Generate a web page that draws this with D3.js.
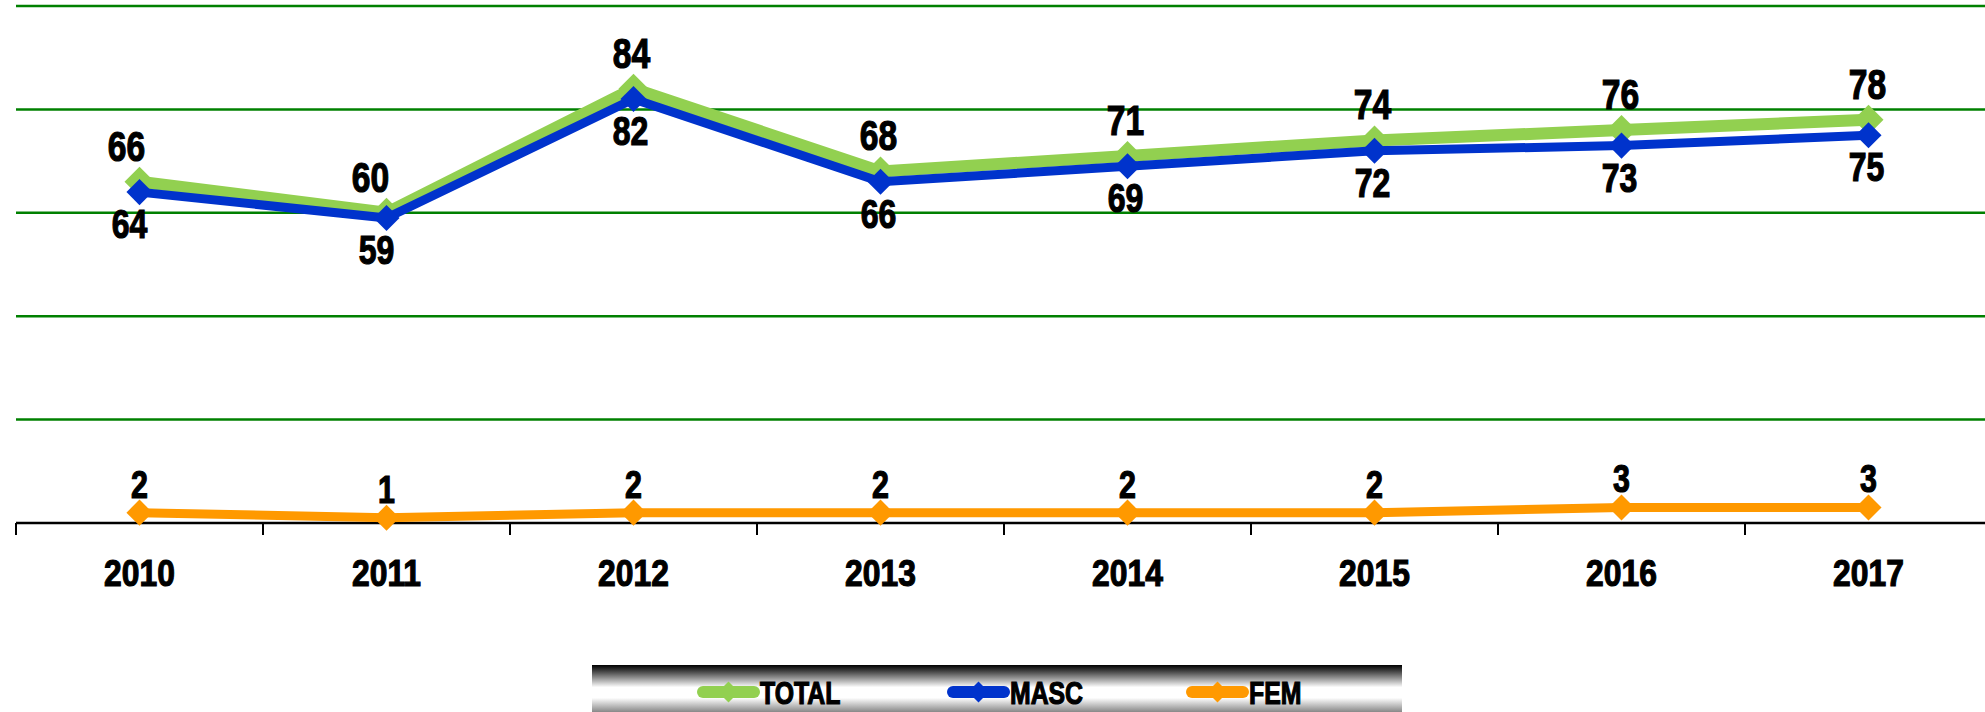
<!DOCTYPE html>
<html>
<head>
<meta charset="utf-8">
<script src="https://cdn.jsdelivr.net/npm/d3@7"></script>
<style>
    body { margin: 0; background: #fff; }
    .svg { display: block; font-family: "Liberation Sans", Arial, sans-serif; font-weight: bold; }
    .svg text { fill: #000; stroke: #000; stroke-width: 1.2px; }
</style>
</head>
<body>
<div class="container">
    <svg class="svg" width="1985" height="712"></svg>
</div>
<script>
const years = ['2010', '2011', '2012', '2013', '2014', '2015', '2016', '2017'];
const totalValues = [66, 60, 84, 68, 71, 74, 76, 78];
const mascValues = [64, 59, 82, 66, 69, 72, 73, 75];
const femValues = [2, 1, 2, 2, 2, 2, 3, 3];
const gridValues = [20, 40, 60, 80, 100];
const seriesNames = ['TOTAL', 'MASC', 'FEM'];

function drawLineChart () {
    const width = 1985;
    const height = 712;
    const margin = {
        top: 6,
        left: 16,
        bottom: 189
    };
    // the original font is a condensed one, so squeeze text horizontally
    const squeeze = 0.8;

    const svg = d3.select('.svg')
        .attr('viewBox', `0 0 ${width} ${height}`);

    /* X SCALE */
    const xScale = d3.scaleBand()
        .domain(years)
        .range([margin.left, margin.left + 8 * 247]);
    const xMid = d => xScale(d) + xScale.bandwidth() / 2;

    /* Y SCALE */
    const yScale = d3.scaleLinear()
        .domain([0, 100])
        .range([height - margin.bottom, margin.top]);

    // grid lines
    svg.append('g')
        .selectAll('line')
        .data(gridValues).enter()
        .append('line')
        .attr('x1', margin.left)
        .attr('x2', width)
        .attr('y1', d => yScale(d))
        .attr('y2', d => yScale(d))
        .attr('stroke', '#008000')
        .attr('stroke-width', 2.5);

    // category axis with ticks between years
    const xAxis = d3.axisBottom(xScale).tickSize(0).tickFormat('');
    const axisG = svg.append('g')
        .attr('transform', `translate(0, ${yScale(0)})`)
        .call(xAxis);
    axisG.select('.domain').remove();
    axisG.append('line')
        .attr('x1', margin.left)
        .attr('x2', width)
        .attr('stroke', '#000')
        .attr('stroke-width', 2.5);
    axisG.selectAll('.sep')
        .data(years).enter()
        .append('line')
        .attr('class', 'sep')
        .attr('x1', d => xScale(d))
        .attr('x2', d => xScale(d))
        .attr('y1', 0)
        .attr('y2', 12)
        .attr('stroke', '#000')
        .attr('stroke-width', 2);
    axisG.selectAll('.year')
        .data(years).enter()
        .append('text')
        .attr('class', 'year')
        .attr('transform', d => `translate(${xMid(d)}, 63) scale(0.86, 1)`)
        .attr('text-anchor', 'middle')
        .style('font-size', '37px')
        .text(d => d);

    // first two labels of the upper lines were dragged a bit to the left
    const nudge = [[-13, -16, -2, -2, -2, -2, -1, -1], [-10, -10, -3, -2, -2, -2, -2, -2], [0, 0, 0, 0, 0, 0, 0, 0]];

    const series = [
        { name: seriesNames[0], values: totalValues, color: '#92D050', width: 12, marker: 450, labelDy: -21, fontSize: 42 },
        { name: seriesNames[1], values: mascValues, color: '#0033CC', width: 9, marker: 340, labelDy: 46, fontSize: 40 },
        { name: seriesNames[2], values: femValues, color: '#FF9900', width: 9, marker: 340, labelDy: -15, fontSize: 38 }
    ];

    const line = d3.line()
        .x((d, i) => xMid(years[i]))
        .y(d => yScale(d));

    const diamond = d3.symbol().type(d3.symbolSquare);

    series.forEach(s => {
        const g = svg.append('g');
        g.append('path')
            .datum(s.values)
            .attr('d', line)
            .attr('fill', 'none')
            .attr('stroke', s.color)
            .attr('stroke-width', s.width)
            .attr('stroke-linejoin', 'round');
        g.selectAll('.marker')
            .data(s.values).enter()
            .append('path')
            .attr('class', 'marker')
            .attr('d', diamond.size(s.marker))
            .attr('transform', (d, i) => `translate(${xMid(years[i])}, ${yScale(d)}) rotate(45)`)
            .attr('fill', s.color);
    });

    // data labels on top of everything
    series.forEach((s, k) => {
        svg.append('g')
            .selectAll('text')
            .data(s.values).enter()
            .append('text')
            .attr('transform', (d, i) => `translate(${xMid(years[i]) + nudge[k][i]}, ${yScale(d) + s.labelDy}) scale(${squeeze}, 1)`)
            .attr('text-anchor', 'middle')
            .style('font-size', `${s.fontSize}px`)
            .text(d => d);
    });

    /* LEGEND */
    const defs = svg.append('defs');
    const grad = defs.append('linearGradient')
        .attr('id', 'legendFill')
        .attr('x1', 0).attr('y1', 0)
        .attr('x2', 0).attr('y2', 1);
    grad.append('stop').attr('offset', '0%').attr('stop-color', '#000');
    grad.append('stop').attr('offset', '12%').attr('stop-color', '#444');
    grad.append('stop').attr('offset', '42%').attr('stop-color', '#fff');
    grad.append('stop').attr('offset', '62%').attr('stop-color', '#fff');
    grad.append('stop').attr('offset', '100%').attr('stop-color', '#555');

    const legend = svg.append('g')
        .attr('id', 'legend');

    legend.append('rect')
        .attr('x', 592)
        .attr('y', 665)
        .attr('width', 810)
        .attr('height', 53)
        .attr('fill', 'url(#legendFill)');

    const legendX = [697, 947, 1186];
    series.forEach((s, i) => {
        const item = legend.append('g')
            .attr('transform', `translate(${legendX[i]}, 692)`);
        item.append('line')
            .attr('x1', 6)
            .attr('x2', 57)
            .attr('stroke', s.color)
            .attr('stroke-width', 12)
            .attr('stroke-linecap', 'round');
        item.append('path')
            .attr('d', d3.symbol().type(d3.symbolSquare).size(220)())
            .attr('transform', 'translate(31.5, 0) rotate(45)')
            .attr('fill', s.color);
        item.append('text')
            .attr('transform', `translate(63, 12) scale(${squeeze}, 1)`)
            .style('font-size', '31px')
            .text(s.name);
    });
}

document.addEventListener('DOMContentLoaded', function (e) {
    drawLineChart();
});
</script>
</body>
</html>
